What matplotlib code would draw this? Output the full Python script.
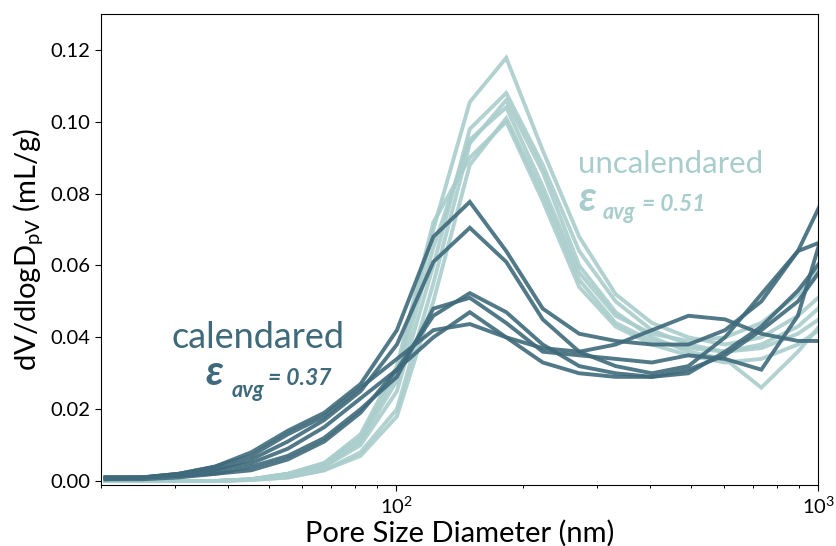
import matplotlib
matplotlib.use("Agg")
import matplotlib.pyplot as plt
from matplotlib.ticker import FixedLocator, FormatStrFormatter

# ── Data ──────────────────────────────────────────────────────────────────────
pore_nm = [20.5, 25.0, 30.5, 37.2, 45.4, 55.4, 67.6, 82.4, 100.5, 122.6, 149.6,
           182.5, 222.7, 271.7, 331.5, 404, 493, 602, 734, 896, 1093]

calendared_1 = [0.001, 0.001, 0.002, 0.004, 0.008, 0.014, 0.019, 0.027, 0.042, 0.068, 0.0777,
                0.064, 0.048, 0.041, 0.039, 0.038, 0.038, 0.042, 0.050, 0.064, 0.085]
calendared_2 = [0.001, 0.001, 0.002, 0.003, 0.006, 0.011, 0.017, 0.025, 0.038, 0.061, 0.0705,
                0.061, 0.045, 0.036, 0.032, 0.030, 0.032, 0.040, 0.052, 0.064, 0.068]
calendared_3 = [0.001, 0.001, 0.0015, 0.003, 0.005, 0.009, 0.015, 0.023, 0.031, 0.046, 0.0523,
                0.047, 0.038, 0.032, 0.030, 0.029, 0.031, 0.035, 0.042, 0.050, 0.064]
calendared_4 = [0.0005, 0.001, 0.0015, 0.002, 0.004, 0.007, 0.012, 0.020, 0.029, 0.048, 0.051,
                0.044, 0.036, 0.035, 0.034, 0.033, 0.035, 0.034, 0.031, 0.046, 0.080]
calendared_5 = [0.001, 0.001, 0.002, 0.004, 0.007, 0.013, 0.018, 0.026, 0.034, 0.042, 0.0437,
                0.040, 0.037, 0.036, 0.038, 0.042, 0.046, 0.045, 0.041, 0.039, 0.039]
calendared_6 = [0.0005, 0.0005, 0.001, 0.002, 0.003, 0.006, 0.011, 0.019, 0.031, 0.040, 0.047,
                0.040, 0.033, 0.030, 0.029, 0.029, 0.030, 0.036, 0.043, 0.053, 0.066]

uncalendared_1 = [0, 0, 0, 0, 0.0005, 0.002, 0.005, 0.012, 0.030, 0.070, 0.1055,
                  0.1178, 0.092, 0.068, 0.052, 0.044, 0.040, 0.038, 0.040, 0.046, 0.055]
uncalendared_2 = [0, 0, 0, 0, 0.0005, 0.002, 0.004, 0.010, 0.025, 0.060, 0.098,
                  0.108, 0.088, 0.064, 0.050, 0.042, 0.038, 0.036, 0.038, 0.043, 0.052]
uncalendared_3 = [0, 0, 0, 0, 0.0003, 0.001, 0.003, 0.008, 0.020, 0.055, 0.094,
                  0.106, 0.086, 0.060, 0.047, 0.040, 0.036, 0.034, 0.026, 0.036, 0.048]
uncalendared_4 = [0, 0, 0, 0, 0.0005, 0.002, 0.004, 0.011, 0.028, 0.065, 0.095,
                  0.104, 0.082, 0.058, 0.046, 0.041, 0.039, 0.040, 0.044, 0.052, 0.064]
uncalendared_5 = [0, 0, 0, 0, 0.0003, 0.001, 0.003, 0.007, 0.018, 0.050, 0.088,
                  0.101, 0.080, 0.056, 0.044, 0.039, 0.037, 0.036, 0.037, 0.041, 0.048]
uncalendared_6 = [0, 0, 0, 0, 0.0005, 0.002, 0.005, 0.013, 0.032, 0.072, 0.090,
                  0.100, 0.078, 0.054, 0.043, 0.038, 0.035, 0.033, 0.034, 0.038, 0.045]

calendared = [calendared_1, calendared_2, calendared_3,
              calendared_4, calendared_5, calendared_6]
uncalendared = [uncalendared_1, uncalendared_2, uncalendared_3,
                uncalendared_4, uncalendared_5, uncalendared_6]

y_ticks = [0.00, 0.02, 0.04, 0.06, 0.08, 0.10, 0.12]

DARK = "#3f6a7b"
LIGHT = "#a9cdcc"

# ── Style ─────────────────────────────────────────────────────────────────────
plt.rcParams["font.family"] = ["Lato", "DejaVu Sans"]
plt.rcParams["mathtext.fontset"] = "custom"
plt.rcParams["mathtext.rm"] = "Lato"
plt.rcParams["mathtext.it"] = "Lato:italic"
plt.rcParams["mathtext.bf"] = "Lato:bold"

fig = plt.figure(figsize=(8.36, 5.46), dpi=100)
ax = fig.add_axes([0.1208, 0.1117, 0.8577, 0.8627])

for ys in uncalendared:
    ax.plot(pore_nm, ys, color=LIGHT, lw=2.8, alpha=0.9, solid_joinstyle="miter")
for ys in calendared:
    ax.plot(pore_nm, ys, color=DARK, lw=2.8, alpha=0.9, solid_joinstyle="miter")

ax.set_xscale("log")
ax.set_xlim(20, 1000)
ax.set_ylim(-0.0011, 0.130)
ax.yaxis.set_major_locator(FixedLocator(y_ticks))
ax.yaxis.set_major_formatter(FormatStrFormatter("%.2f"))
ax.tick_params(labelsize=14.5, length=4, width=0.8)
ax.tick_params(which="minor", length=2.5, width=0.7)

ax.set_xlabel("Pore Size Diameter (nm)", fontsize=21, labelpad=2)
ax.set_ylabel(r"dV/dlogD$_{\mathrm{pV}}$ (mL/g)", fontsize=21, labelpad=4)


# ── Annotations ───────────────────────────────────────────────────────────────
def porosity_label(x_eps, x_sub, x_val, y_base, y_sub, value, color):
    kw = dict(transform=ax.transAxes, color=color, fontweight="bold",
              style="italic", ha="left", va="baseline")
    ax.text(x_eps, y_base, "\u03b5", fontsize=30, **kw)
    ax.text(x_sub, y_sub, "avg", fontsize=15.5, **kw)
    ax.text(x_val, y_base, "= " + value, fontsize=16.5, **kw)


ax.text(0.099, 0.291, "calendared", transform=ax.transAxes, color=DARK,
        fontsize=26, ha="left", va="baseline")
porosity_label(0.145, 0.1815, 0.2329, 0.2123, 0.1868, "0.37", DARK)

ax.text(0.6653, 0.6624, "uncalendared", transform=ax.transAxes, color=LIGHT,
        fontsize=22.5, ha="left", va="baseline")
porosity_label(0.6653, 0.6995, 0.7545, 0.5817, 0.5648, "0.51", LIGHT)

fig.savefig("out.png", dpi=100)
